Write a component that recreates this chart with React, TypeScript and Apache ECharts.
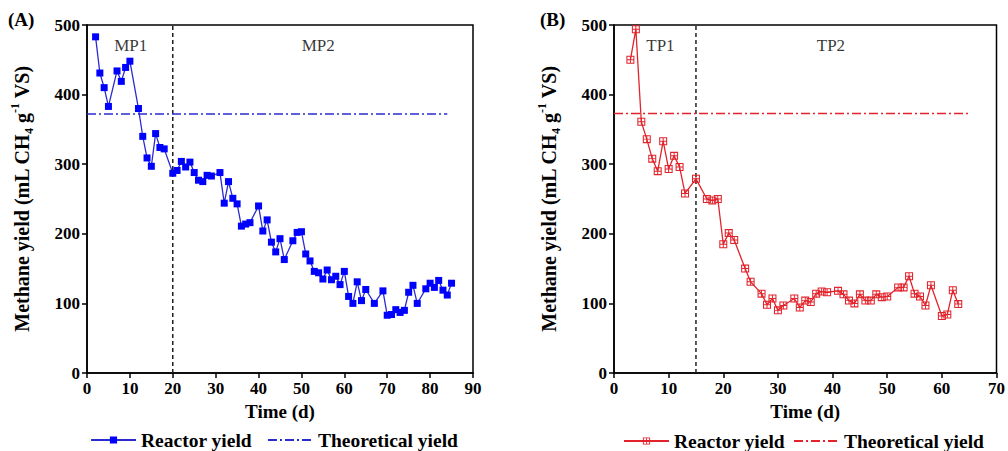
import React, { useEffect, useRef } from "react";
import * as echarts from "echarts";

// Panel A (mesophilic)
const aDays = [2,3,4,5,7,8,9,10,12,13,14,15,16,17,18,20,21,22,23,24,25,26,27,28,29,31,32,33,34,35,36,37,38,40,41,42,43,44,45,46,48,49,50,51,52,53,54,55,56,57,58,59,60,61,62,63,64,65,67,69,70,71,72,73,74,75,76,77,79,80,81,82,83,84,85];
const aYield = [483,431,410,383,434,419,439,448,380,340,309,297,344,324,322,287,291,304,296,303,288,277,275,284,283,288,244,275,251,243,211,214,216,240,204,220,188,174,193,163,190,202,203,171,161,146,144,135,148,134,139,127,146,110,100,131,104,120,100,118,83,84,91,87,90,116,126,100,121,129,123,133,119,112,129];
const aTheoretical = 372;
const aTheoreticalEnd = 84;
const aPhaseSplit = 20;

// Panel B (thermophilic)
const bDays = [3,4,5,6,7,8,9,10,11,12,13,15,17,18,19,20,21,22,24,25,27,28,29,30,31,33,34,35,36,37,38,39,41,42,43,44,45,46,47,48,49,50,52,53,54,55,56,57,58,60,61,62,63];
const bYield = [450,494,361,336,308,290,333,293,312,296,258,279,250,248,250,185,201,191,150,131,114,98,107,90,97,107,94,104,102,114,117,116,118,113,104,100,113,104,104,113,109,110,123,123,139,114,110,97,126,82,84,119,99];
const bTheoretical = 373;
const bTheoreticalEnd = 65;
const bPhaseSplit = 15;

const yTicks = { min: 0, max: 500, interval: 100 };
const aX = { min: 0, max: 90, interval: 10 };
const bX = { min: 0, max: 70, interval: 10 };

const phaseLabelsA = [
  { name: "MP1", x: 10.2, y: 470 },
  { name: "MP2", x: 53.9, y: 470 },
];
const phaseLabelsB = [
  { name: "TP1", x: 8.5, y: 470 },
  { name: "TP2", x: 39.7, y: 470 },
];

const FONT = "'Liberation Serif', 'Times New Roman', serif";
const BLUE_LINE = "#2b2bd0";
const BLUE_MARK = "#0000ff";
const RED = "#e2232b";
const CROSS_SQUARE =
  "path://M0,0H10V10H0Z M1.3,1.3V8.7H8.7V1.3Z M4.4,1.3H5.6V8.7H4.4Z M1.3,4.4H8.7V5.6H1.3Z";

export default function App() {
  const ref = useRef<HTMLDivElement>(null);
  useEffect(() => {
    if (!ref.current) return;
    const chart = echarts.init(ref.current, undefined, { renderer: "svg" });

    const axisLabel = { color: "#000", fontFamily: FONT, fontWeight: "bold", fontSize: 17, margin: 7 };
    const axisLine = { show: true, onZero: false, lineStyle: { color: "#000", width: 1.5 } };
    const axisTick = { show: true, length: 5, lineStyle: { color: "#000", width: 1.5 } };

    const xAxisBase = (gridIndex: number, r: any) => ({
      type: "value",
      gridIndex,
      min: r.min,
      max: r.max,
      interval: r.interval,
      axisLine,
      axisTick,
      axisLabel,
      splitLine: { show: false },
      name: "Time (d)",
      nameLocation: "middle",
      nameGap: 28,
      nameTextStyle: { color: "#000", fontFamily: FONT, fontWeight: "bold", fontSize: 19 },
    });

    const yName = "{b|Methane yield (mL CH}{s|4}{b| g}{p|-1}{b| VS)}";
    const yAxisBase = (gridIndex: number) => ({
      type: "value",
      gridIndex,
      min: yTicks.min,
      max: yTicks.max,
      interval: yTicks.interval,
      axisLine,
      axisTick,
      axisLabel,
      splitLine: { show: false },
      name: yName,
      nameLocation: "middle",
      nameGap: 52,
      nameTextStyle: {
        color: "#000",
        rich: {
          b: { fontFamily: FONT, fontWeight: "bold", fontSize: 20, lineHeight: 26, color: "#000" },
          s: { fontFamily: FONT, fontWeight: "bold", fontSize: 12, lineHeight: 26, verticalAlign: "bottom", color: "#000" },
          p: { fontFamily: FONT, fontWeight: "bold", fontSize: 12, lineHeight: 26, verticalAlign: "top", color: "#000" },
        },
      },
    });

    const labelSeries = (idx: number, arr: any[]) => ({
      type: "scatter",
      xAxisIndex: idx,
      yAxisIndex: idx,
      symbolSize: 1,
      itemStyle: { color: "rgba(0,0,0,0)" },
      silent: true,
      label: {
        show: true,
        position: "inside",
        formatter: (p: any) => p.name,
        color: "#000",
        fontFamily: FONT,
        fontSize: 17,
      },
      data: arr.map((d) => ({ name: d.name, value: [d.x, d.y] })),
    });

    const legendText = { color: "#000", fontFamily: FONT, fontWeight: "bold", fontSize: 19.5 };

    chart.setOption({
      animation: false,
      backgroundColor: "#fff",
      title: [
        { text: "(A)", left: 8, top: 10, padding: 0, textStyle: { color: "#000", fontFamily: FONT, fontWeight: "bold", fontSize: 19 } },
        { text: "(B)", left: 540, top: 10, padding: 0, textStyle: { color: "#000", fontFamily: FONT, fontWeight: "bold", fontSize: 19 } },
      ],
      grid: [
        { left: 87, top: 25, width: 386, height: 348, show: true, borderColor: "#000", borderWidth: 1.5, backgroundColor: "transparent" },
        { left: 614, top: 25, width: 386, height: 348, show: true, borderColor: "#000", borderWidth: 1.5, backgroundColor: "transparent" },
      ],
      xAxis: [xAxisBase(0, aX), xAxisBase(1, bX)],
      yAxis: [yAxisBase(0), yAxisBase(1)],
      legend: [
        {
          left: 90,
          top: 430,
          padding: 0,
          itemWidth: 45,
          itemHeight: 9,
          itemGap: 15,
          textStyle: legendText,
          data: ["Reactor yield", { name: "Theoretical yield", itemStyle: { opacity: 0 } }],
        },
        {
          left: 623,
          top: 431,
          padding: 0,
          itemWidth: 45,
          itemHeight: 9,
          itemGap: 8,
          textStyle: legendText,
          formatter: (n: string) => n.replace(" (B)", ""),
          data: ["Reactor yield (B)", { name: "Theoretical yield (B)", itemStyle: { opacity: 0 } }],
        },
      ],
      series: [
        {
          name: "Phase split A",
          type: "line",
          xAxisIndex: 0,
          yAxisIndex: 0,
          symbol: "none",
          silent: true,
          lineStyle: { color: "#222", width: 1.5, type: [4, 3] },
          data: [[aPhaseSplit, yTicks.min], [aPhaseSplit, yTicks.max]],
        },
        {
          name: "Theoretical yield",
          type: "line",
          xAxisIndex: 0,
          yAxisIndex: 0,
          symbol: "none",
          lineStyle: { color: BLUE_LINE, width: 1.5, type: [9, 3, 2, 3] },
          itemStyle: { color: BLUE_LINE },
          data: [[aX.min, aTheoretical], [aTheoreticalEnd, aTheoretical]],
        },
        {
          name: "Reactor yield",
          type: "line",
          xAxisIndex: 0,
          yAxisIndex: 0,
          symbol: "rect",
          symbolSize: 7,
          lineStyle: { color: BLUE_LINE, width: 1.3 },
          itemStyle: { color: BLUE_MARK },
          data: aDays.map((d, i) => [d, aYield[i]]),
        },
        labelSeries(0, phaseLabelsA),
        {
          name: "Phase split B",
          type: "line",
          xAxisIndex: 1,
          yAxisIndex: 1,
          symbol: "none",
          silent: true,
          lineStyle: { color: "#222", width: 1.5, type: [4, 3] },
          data: [[bPhaseSplit, yTicks.min], [bPhaseSplit, yTicks.max]],
        },
        {
          name: "Theoretical yield (B)",
          type: "line",
          xAxisIndex: 1,
          yAxisIndex: 1,
          symbol: "none",
          lineStyle: { color: RED, width: 1.5, type: [9, 3, 2, 3] },
          itemStyle: { color: RED },
          data: [[bX.min, bTheoretical], [bTheoreticalEnd, bTheoretical]],
        },
        {
          name: "Reactor yield (B)",
          type: "line",
          xAxisIndex: 1,
          yAxisIndex: 1,
          symbol: CROSS_SQUARE,
          symbolSize: 8,
          lineStyle: { color: RED, width: 1.3 },
          itemStyle: { color: RED, borderWidth: 0 },
          data: bDays.map((d, i) => [d, bYield[i]]),
        },
        labelSeries(1, phaseLabelsB),
      ],
    });
    return () => chart.dispose();
  }, []);
  return (
    <div
      ref={ref}
      style={{ position: "fixed", left: 0, top: 0, width: 1008, height: 451, background: "#fff" }}
    />
  );
}
